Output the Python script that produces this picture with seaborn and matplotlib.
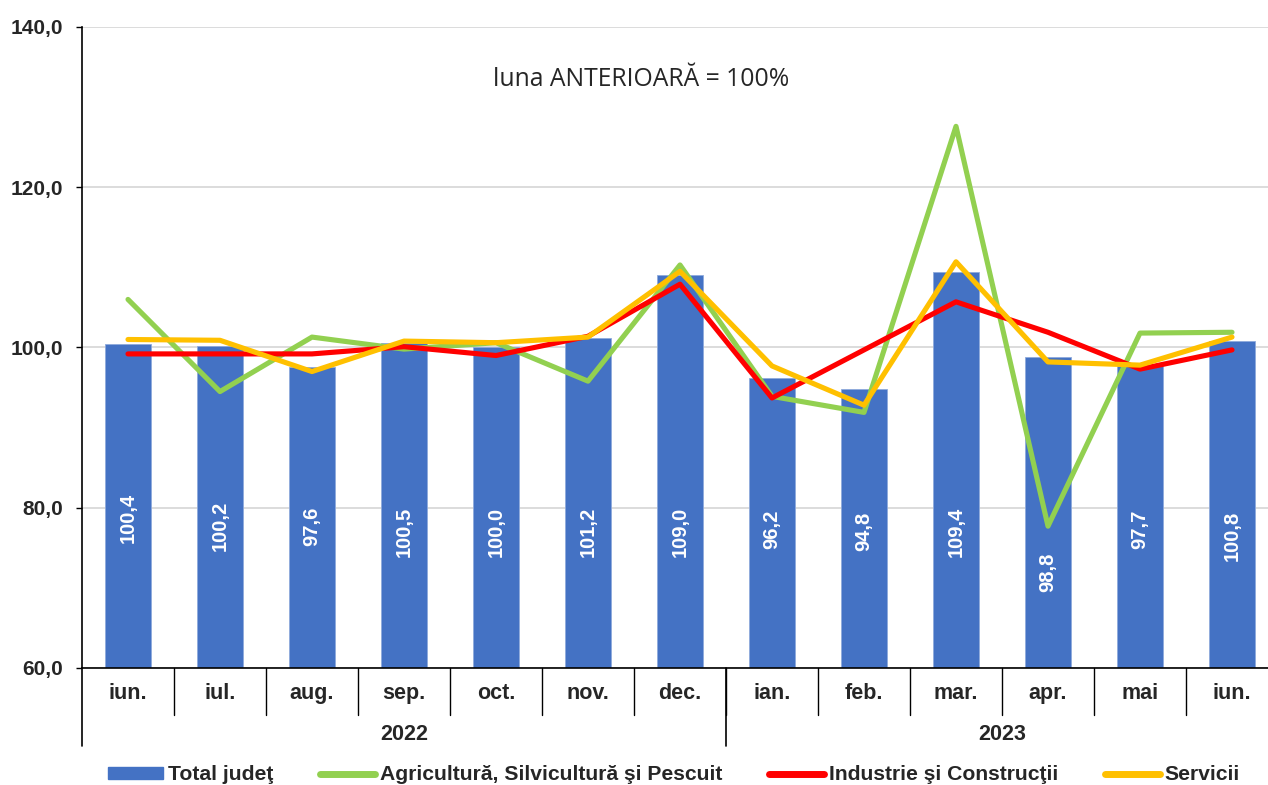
import numpy as np
import pandas as pd
import matplotlib
matplotlib.use("Agg")
import matplotlib.pyplot as plt
import seaborn as sns
from matplotlib.lines import Line2D
from matplotlib.patches import Patch
from matplotlib.ticker import FuncFormatter, FixedLocator
import matplotlib.transforms as mtransforms

# ---------------- data ----------------
months = ["iun.", "iul.", "aug.", "sep.", "oct.", "nov.", "dec.",
          "ian.", "feb.", "mar.", "apr.", "mai", "iun."]
years = ["2022", "2023"]
year_counts = [7, 6]
total = [100.4, 100.2, 97.6, 100.5, 100.0, 101.2, 109.0, 96.2, 94.8, 109.4, 98.8, 97.7, 100.8]
agri = [106.0, 94.5, 101.3, 99.8, 100.6, 95.8, 110.3, 93.9, 91.9, 127.6, 77.7, 101.8, 101.9]
ind = [99.2, 99.2, 99.2, 100.1, 99.0, 101.4, 107.9, 93.7, 99.7, 105.7, 101.9, 97.3, 99.7]
serv = [101.0, 100.9, 97.0, 100.8, 100.6, 101.3, 109.5, 97.7, 92.8, 110.7, 98.2, 97.8, 101.3]
series_names = ["Total judeţ", "Agricultură, Silvicultură şi Pescuit",
                "Industrie şi Construcţii", "Servicii"]
title = "luna ANTERIOARĂ = 100%"
yticks = [60, 80, 100, 120, 140]

# label placement (style): vertical centre of the in-bar value labels, in axis units
label_centres = [78.7, 77.8, 77.7, 77.0, 77.0, 77.0, 77.0, 77.3, 77.0, 77.0, 72.0, 77.3, 76.5]

BLUE, GREEN, RED, YELLOW = "#4472C4", "#92D050", "#FF0000", "#FFC000"

pos = np.arange(len(months))
df = pd.DataFrame({"pos": pos, "total": total, "agri": agri, "ind": ind, "serv": serv})

sns.set_theme(style="white")
plt.rcParams["font.family"] = ["Liberation Sans", "DejaVu Sans"]

fig = plt.figure(figsize=(12.68, 7.85), dpi=100)
ax = fig.add_axes([82 / 1268, 117 / 785, 1196 / 1268, 641 / 785])

sns.barplot(data=df, x="pos", y="total", color=BLUE, saturation=1, width=0.5,
            ax=ax, zorder=2, edgecolor="#8FAADC", linewidth=0.6)
for col, c in [("agri", GREEN), ("ind", RED), ("serv", YELLOW)]:
    sns.lineplot(data=df, x="pos", y=col, color=c, lw=3.7, ax=ax, zorder=3,
                 solid_capstyle="round", solid_joinstyle="round")

ax.set_xlim(-0.5, len(months) - 0.5)
ax.set_ylim(60, 140)
ax.set_xlabel("")
ax.set_ylabel("")

# y axis
ax.yaxis.set_major_locator(FixedLocator(yticks))
ax.yaxis.set_major_formatter(FuncFormatter(lambda v, p: f"{v:.1f}".replace(".", ",")))
ax.grid(axis="y", color="#D9D9D9", lw=1.3, zorder=0)
ax.set_axisbelow(True)
ax.tick_params(axis="y", which="major", length=4.3, width=1, color="black", direction="out",
               labelsize=15, pad=9.5, left=True)
for lab in ax.get_yticklabels():
    lab.set_fontweight("bold")

for s in ["top", "right"]:
    ax.spines[s].set_visible(False)
ax.spines["left"].set_color("black")
ax.spines["left"].set_linewidth(1.2)
ax.spines["bottom"].set_color("black")
ax.spines["bottom"].set_linewidth(1.2)

# x axis labels
ax.set_xticks(pos)
ax.set_xticklabels(months, fontsize=15.5, fontweight="bold")
ax.tick_params(axis="x", length=0, pad=11)

trans = mtransforms.blended_transform_factory(ax.transData, ax.transAxes)
for k in range(1, len(months)):
    ax.plot([k - 0.5, k - 0.5], [0, -47 / 641], transform=trans, color="black",
            lw=1, clip_on=False)
start = 0
bounds = [-0.5]
for y, n in zip(years, year_counts):
    ax.text(start + (n - 1) / 2, -66 / 641, y, transform=trans, ha="center", va="center",
            fontsize=15.5, fontweight="bold")
    start += n
    bounds.append(start - 0.5)
for b in bounds[:-1]:
    ax.plot([b, b], [0, -78 / 641], transform=trans, color="black", lw=1.2, clip_on=False)

# bar value labels
for i, v in enumerate(total):
    ax.text(i, label_centres[i], f"{v:.1f}".replace(".", ","), rotation=90, ha="center",
            va="center", color="white", fontsize=14.5, fontweight="bold", zorder=4)

# title
fig.text(641 / 1268, 1 - 86 / 785, title, ha="center", va="baseline", fontsize=17.8,
         family=["Open Sans", "DejaVu Sans"])

# legend
handles = [Patch(facecolor=BLUE, edgecolor=BLUE),
           Line2D([], [], color=GREEN, lw=5),
           Line2D([], [], color=RED, lw=5),
           Line2D([], [], color=YELLOW, lw=5)]
leg = fig.legend(handles, series_names, loc="center", bbox_to_anchor=(674 / 1268, 10 / 785),
                 ncol=4, frameon=False, prop={"weight": "bold", "size": 15.2},
                 handlelength=2.6, handleheight=0.55, handletextpad=0.25, columnspacing=2.2,
                 borderpad=0.1)

fig.savefig("out.png", dpi=100)
